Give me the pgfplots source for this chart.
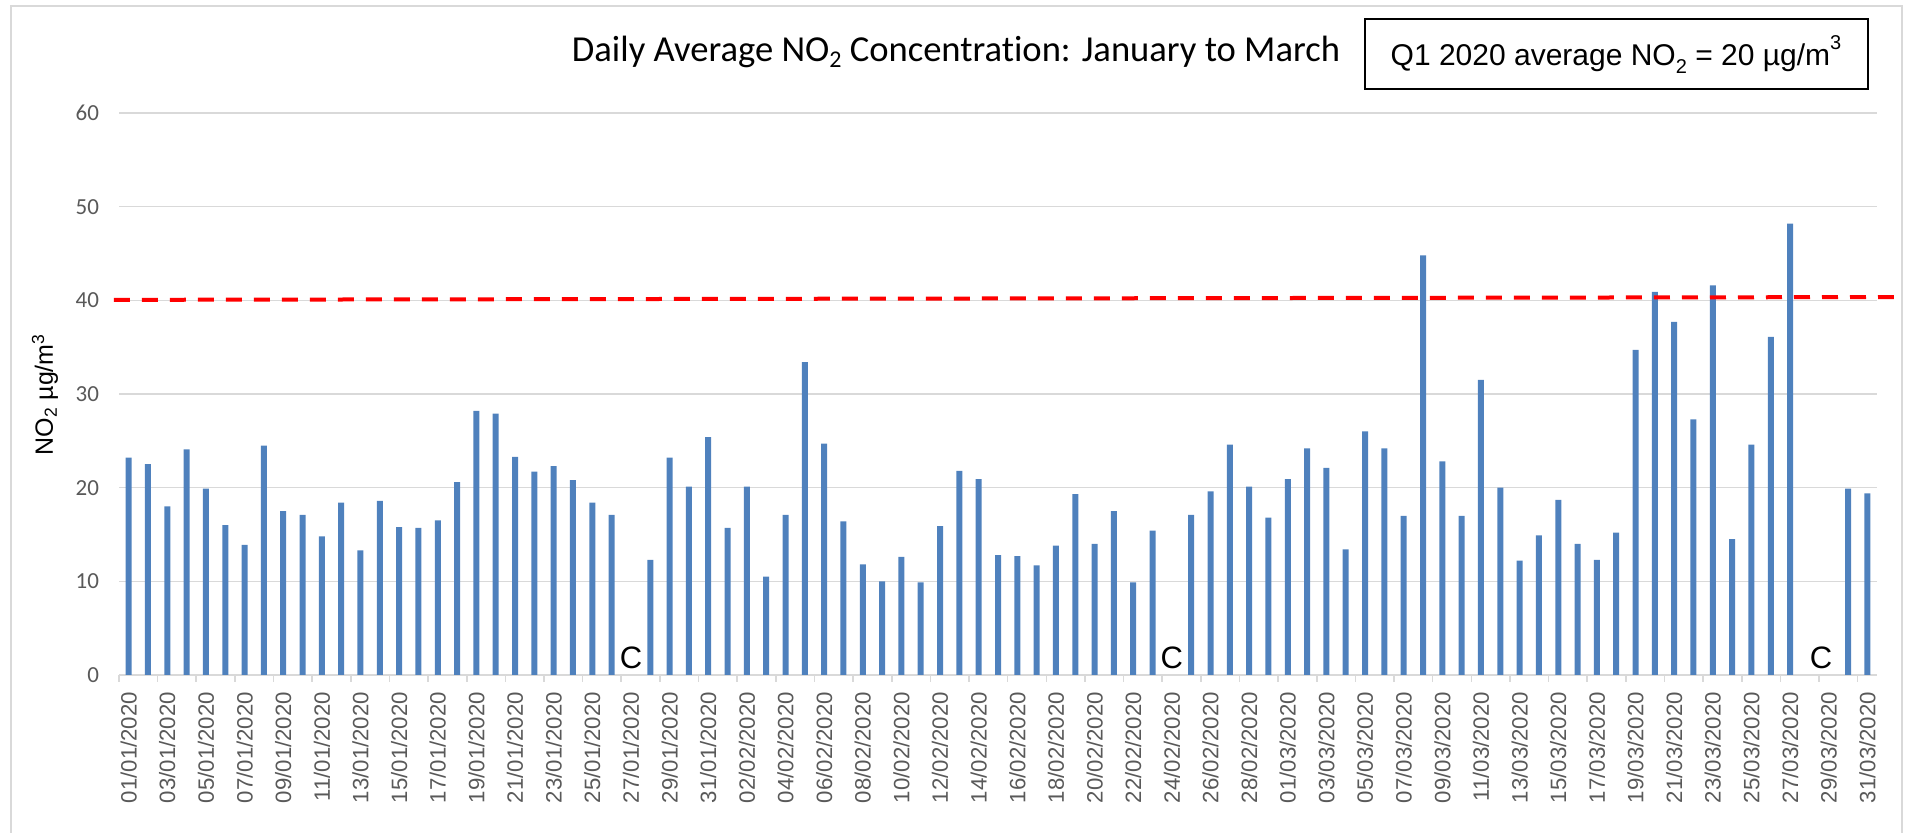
\documentclass[border=0pt]{standalone}
\usepackage{pgfplots}
\pgfplotsset{compat=1.18}
\usepackage{pgfplotstable}
\usepackage{fontspec}
\setmainfont{Carlito}[Ligatures=NoCommon]
\newfontfamily\arial{Liberation Sans}
\definecolor{barblue}{RGB}{79,129,189}
\definecolor{gridgray}{RGB}{217,217,217}
\definecolor{labgray}{RGB}{89,89,89}

\pgfplotstableread{
x y
0 23.2
1 22.5
2 18.0
3 24.1
4 19.9
5 16.0
6 13.9
7 24.5
8 17.5
9 17.1
10 14.8
11 18.4
12 13.3
13 18.6
14 15.8
15 15.7
16 16.5
17 20.6
18 28.2
19 27.9
20 23.3
21 21.7
22 22.3
23 20.8
24 18.4
25 17.1
27 12.3
28 23.2
29 20.1
30 25.4
31 15.7
32 20.1
33 10.5
34 17.1
35 33.4
36 24.7
37 16.4
38 11.8
39 10.0
40 12.6
41 9.9
42 15.9
43 21.8
44 20.9
45 12.8
46 12.7
47 11.7
48 13.8
49 19.3
50 14.0
51 17.5
52 9.9
53 15.4
55 17.1
56 19.6
57 24.6
58 20.1
59 16.8
60 20.9
61 24.2
62 22.1
63 13.4
64 26.0
65 24.2
66 17.0
67 44.8
68 22.8
69 17.0
70 31.5
71 20.0
72 12.2
73 14.9
74 18.7
75 14.0
76 12.3
77 15.2
78 34.7
79 40.9
80 37.7
81 27.3
82 41.6
83 14.5
84 24.6
85 36.1
86 48.2
89 19.9
90 19.4
}\dailydata

\begin{document}
\begin{tikzpicture}
\path[use as bounding box] (0,0) rectangle (952.5pt,416.5pt);
\draw[gridgray, line width=1pt] (5.5pt,-2pt) -- (5.5pt,413.5pt) -- (951pt,413.5pt) -- (951pt,-2pt);
\begin{axis}[
  at={(59.5pt,79pt)}, anchor=south west,
  scale only axis, width=879pt, height=281pt,
  xmin=-0.5, xmax=90.5, ymin=0, ymax=60,
  clip=false,
  axis lines*=left,
  y axis line style={draw=none},
  x axis line style={draw=gridgray, line width=1pt},
  ymajorgrids, grid style={draw=gridgray, line width=0.8pt},
  ytick={0,10,...,60},
  major tick length=0pt,
  /pgf/number format/assume math mode=true,
  yticklabel style={font=\fontsize{11.5}{12}\selectfont, text=labgray, xshift=-6.5pt},
  xtick={0,2,...,90},
  xticklabels={01/01/2020,03/01/2020,05/01/2020,07/01/2020,09/01/2020,11/01/2020,13/01/2020,15/01/2020,17/01/2020,19/01/2020,21/01/2020,23/01/2020,25/01/2020,27/01/2020,29/01/2020,31/01/2020,02/02/2020,04/02/2020,06/02/2020,08/02/2020,10/02/2020,12/02/2020,14/02/2020,16/02/2020,18/02/2020,20/02/2020,22/02/2020,24/02/2020,26/02/2020,28/02/2020,01/03/2020,03/03/2020,05/03/2020,07/03/2020,09/03/2020,11/03/2020,13/03/2020,15/03/2020,17/03/2020,19/03/2020,21/03/2020,23/03/2020,25/03/2020,27/03/2020,29/03/2020,31/03/2020},
  xticklabel style={yshift=-5pt, rotate=90, anchor=east, font=\arial\fontsize{11.1}{12}\selectfont, text=labgray},
  extra x ticks={-0.5,1.5,...,89.5},
  extra x tick labels={},
  extra x tick style={major tick length=3.5pt, tick align=outside, tick style={draw=gridgray, line width=0.8pt}, grid=none},
]
\addplot[ybar, bar width=3pt, fill=barblue, draw=none] table[x=x, y=y] {\dailydata};
\addplot[red, line width=2pt, dash pattern=on 8pt off 6pt] coordinates {(-0.76,40.05) (91.37,40.35)};
\node[anchor=base, font=\arial\fontsize{15.5}{16}\selectfont, yshift=3pt] at (axis cs:26,0) {C};
\node[anchor=base, font=\arial\fontsize{15.5}{16}\selectfont, yshift=3pt] at (axis cs:54,0) {C};
\node[anchor=base, font=\arial\fontsize{15.5}{16}\selectfont, yshift=3pt] at (axis cs:87.6,0) {C};
\end{axis}
\node[anchor=base, font=\fontsize{18.3}{20}\selectfont] at (478pt,385.6pt) {Daily Average NO\raisebox{-3pt}{\fontsize{12}{12}\selectfont 2} Concentration: January to March};
\draw[black, line width=1.2pt] (682.5pt,372pt) rectangle (934pt,407pt);
\node[anchor=base, font=\arial\fontsize{15}{16}\selectfont] at (808pt,383.6pt) {Q1 2020 average NO\raisebox{-4pt}{\fontsize{10}{10}\selectfont 2} = 20 µg/m\raisebox{8pt}{\fontsize{10}{10}\selectfont 3}};
\node[rotate=90, font=\arial\fontsize{12.5}{13}\selectfont] at (22.5pt,219.25pt) {NO\textsubscript{2} µg/m\textsuperscript{3}};
\end{tikzpicture}
\end{document}
